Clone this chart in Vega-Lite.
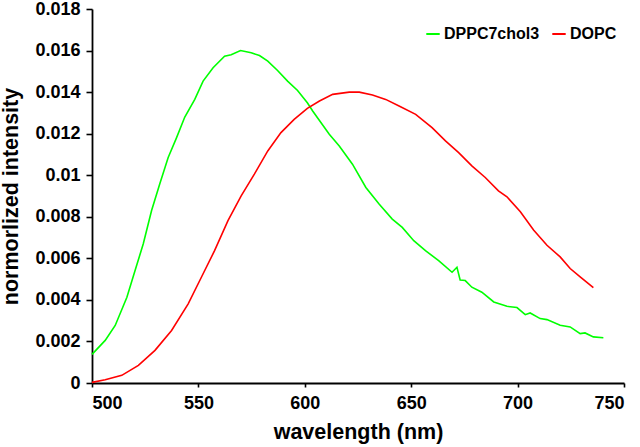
{
  "$schema": "https://vega.github.io/schema/vega-lite/v6.json",
  "width": 532,
  "height": 374,
  "autosize": {"type": "none"},
  "padding": {"left": 92, "top": 9, "right": 16, "bottom": 64},
  "background": "white",
  "config": {
    "view": {"stroke": null},
    "font": "Liberation Sans",
    "axis": {
      "grid": false,
      "domainColor": "black",
      "domainWidth": 1.8,
      "tickColor": "black",
      "tickWidth": 1.6,
      "labelColor": "black",
      "labelFont": "Liberation Sans",
      "labelFontWeight": "bold",
      "labelFontSize": 18,
      "titleColor": "black",
      "titleFont": "Liberation Sans",
      "titleFontWeight": "bold"
    },
    "legend": {
      "labelFont": "Liberation Sans",
      "labelFontWeight": "bold",
      "labelFontSize": 16,
      "labelColor": "black"
    }
  },
  "data": {
    "values": [
      {"wl": 500.0, "v": 0.00138, "s": "DPPC7chol3"},
      {"wl": 506.2, "v": 0.00205, "s": "DPPC7chol3"},
      {"wl": 510.9, "v": 0.00277, "s": "DPPC7chol3"},
      {"wl": 516.4, "v": 0.00413, "s": "DPPC7chol3"},
      {"wl": 520.2, "v": 0.0054, "s": "DPPC7chol3"},
      {"wl": 524.1, "v": 0.0067, "s": "DPPC7chol3"},
      {"wl": 528.0, "v": 0.0083, "s": "DPPC7chol3"},
      {"wl": 531.9, "v": 0.0096, "s": "DPPC7chol3"},
      {"wl": 535.8, "v": 0.01085, "s": "DPPC7chol3"},
      {"wl": 539.7, "v": 0.0118, "s": "DPPC7chol3"},
      {"wl": 543.6, "v": 0.0128, "s": "DPPC7chol3"},
      {"wl": 548.3, "v": 0.01365, "s": "DPPC7chol3"},
      {"wl": 552.2, "v": 0.01453, "s": "DPPC7chol3"},
      {"wl": 556.9, "v": 0.01517, "s": "DPPC7chol3"},
      {"wl": 562.3, "v": 0.01573, "s": "DPPC7chol3"},
      {"wl": 565.4, "v": 0.0158, "s": "DPPC7chol3"},
      {"wl": 569.8, "v": 0.016, "s": "DPPC7chol3"},
      {"wl": 574.8, "v": 0.01589, "s": "DPPC7chol3"},
      {"wl": 578.7, "v": 0.01576, "s": "DPPC7chol3"},
      {"wl": 582.6, "v": 0.01549, "s": "DPPC7chol3"},
      {"wl": 587.2, "v": 0.01504, "s": "DPPC7chol3"},
      {"wl": 591.9, "v": 0.01453, "s": "DPPC7chol3"},
      {"wl": 596.6, "v": 0.01408, "s": "DPPC7chol3"},
      {"wl": 601.2, "v": 0.01349, "s": "DPPC7chol3"},
      {"wl": 603.7, "v": 0.01309, "s": "DPPC7chol3"},
      {"wl": 611.5, "v": 0.01197, "s": "DPPC7chol3"},
      {"wl": 616.2, "v": 0.01141, "s": "DPPC7chol3"},
      {"wl": 622.4, "v": 0.01053, "s": "DPPC7chol3"},
      {"wl": 628.7, "v": 0.00941, "s": "DPPC7chol3"},
      {"wl": 634.9, "v": 0.00861, "s": "DPPC7chol3"},
      {"wl": 641.1, "v": 0.00789, "s": "DPPC7chol3"},
      {"wl": 645.8, "v": 0.00749, "s": "DPPC7chol3"},
      {"wl": 651.2, "v": 0.00685, "s": "DPPC7chol3"},
      {"wl": 656.7, "v": 0.00637, "s": "DPPC7chol3"},
      {"wl": 662.9, "v": 0.00589, "s": "DPPC7chol3"},
      {"wl": 669.2, "v": 0.00533, "s": "DPPC7chol3"},
      {"wl": 671.5, "v": 0.00557, "s": "DPPC7chol3"},
      {"wl": 673.0, "v": 0.00496, "s": "DPPC7chol3"},
      {"wl": 675.4, "v": 0.00493, "s": "DPPC7chol3"},
      {"wl": 678.5, "v": 0.00461, "s": "DPPC7chol3"},
      {"wl": 683.2, "v": 0.00437, "s": "DPPC7chol3"},
      {"wl": 688.8, "v": 0.0039, "s": "DPPC7chol3"},
      {"wl": 695.0, "v": 0.00369, "s": "DPPC7chol3"},
      {"wl": 699.7, "v": 0.00363, "s": "DPPC7chol3"},
      {"wl": 703.6, "v": 0.00329, "s": "DPPC7chol3"},
      {"wl": 705.9, "v": 0.00337, "s": "DPPC7chol3"},
      {"wl": 710.6, "v": 0.0031, "s": "DPPC7chol3"},
      {"wl": 713.8, "v": 0.00305, "s": "DPPC7chol3"},
      {"wl": 720.0, "v": 0.00278, "s": "DPPC7chol3"},
      {"wl": 724.7, "v": 0.0027, "s": "DPPC7chol3"},
      {"wl": 729.4, "v": 0.00238, "s": "DPPC7chol3"},
      {"wl": 731.7, "v": 0.00241, "s": "DPPC7chol3"},
      {"wl": 735.6, "v": 0.00222, "s": "DPPC7chol3"},
      {"wl": 740.3, "v": 0.00218, "s": "DPPC7chol3"},
      {"wl": 500.0, "v": 0.00003, "s": "DOPC"},
      {"wl": 506.2, "v": 0.00016, "s": "DOPC"},
      {"wl": 514.0, "v": 0.00037, "s": "DOPC"},
      {"wl": 521.8, "v": 0.00085, "s": "DOPC"},
      {"wl": 529.6, "v": 0.00157, "s": "DOPC"},
      {"wl": 537.4, "v": 0.00253, "s": "DOPC"},
      {"wl": 545.2, "v": 0.00381, "s": "DOPC"},
      {"wl": 551.4, "v": 0.00509, "s": "DOPC"},
      {"wl": 557.6, "v": 0.00637, "s": "DOPC"},
      {"wl": 563.9, "v": 0.00781, "s": "DOPC"},
      {"wl": 570.1, "v": 0.00901, "s": "DOPC"},
      {"wl": 576.3, "v": 0.01005, "s": "DOPC"},
      {"wl": 582.6, "v": 0.01117, "s": "DOPC"},
      {"wl": 588.8, "v": 0.01205, "s": "DOPC"},
      {"wl": 595.0, "v": 0.01269, "s": "DOPC"},
      {"wl": 601.2, "v": 0.01322, "s": "DOPC"},
      {"wl": 606.9, "v": 0.01357, "s": "DOPC"},
      {"wl": 613.1, "v": 0.01389, "s": "DOPC"},
      {"wl": 620.9, "v": 0.014, "s": "DOPC"},
      {"wl": 625.6, "v": 0.014, "s": "DOPC"},
      {"wl": 631.8, "v": 0.01386, "s": "DOPC"},
      {"wl": 638.0, "v": 0.01365, "s": "DOPC"},
      {"wl": 644.3, "v": 0.01333, "s": "DOPC"},
      {"wl": 652.1, "v": 0.01293, "s": "DOPC"},
      {"wl": 659.8, "v": 0.01229, "s": "DOPC"},
      {"wl": 666.1, "v": 0.01165, "s": "DOPC"},
      {"wl": 672.3, "v": 0.01109, "s": "DOPC"},
      {"wl": 678.5, "v": 0.01045, "s": "DOPC"},
      {"wl": 684.8, "v": 0.00989, "s": "DOPC"},
      {"wl": 691.0, "v": 0.00925, "s": "DOPC"},
      {"wl": 695.0, "v": 0.00896, "s": "DOPC"},
      {"wl": 701.3, "v": 0.00824, "s": "DOPC"},
      {"wl": 707.5, "v": 0.00736, "s": "DOPC"},
      {"wl": 713.8, "v": 0.00663, "s": "DOPC"},
      {"wl": 720.0, "v": 0.00607, "s": "DOPC"},
      {"wl": 724.7, "v": 0.00551, "s": "DOPC"},
      {"wl": 729.4, "v": 0.00511, "s": "DOPC"},
      {"wl": 735.6, "v": 0.00459, "s": "DOPC"}
    ]
  },
  "mark": {"type": "line", "strokeWidth": 1.6, "interpolate": "linear"},
  "encoding": {
    "x": {
      "field": "wl",
      "type": "quantitative",
      "scale": {"domain": [500, 750], "nice": false, "zero": false},
      "axis": {
        "title": "wavelength (nm)",
        "values": [500, 550, 600, 650, 700, 750],
        "tickSize": 4,
        "labelPadding": 7,
        "titleFontSize": 21.5,
        "titleBaseline": "alphabetic",
        "titleY": 55
      }
    },
    "y": {
      "field": "v",
      "type": "quantitative",
      "scale": {"domain": [0, 0.018], "nice": false},
      "axis": {
        "title": "normorlized intensity",
        "values": [0, 0.002, 0.004, 0.006, 0.008, 0.01, 0.012, 0.014, 0.016, 0.018],
        "format": ".3~f",
        "tickSize": 6,
        "labelPadding": 6,
        "titleFontSize": 21.5,
        "titleBaseline": "alphabetic",
        "titleX": -75
      }
    },
    "color": {
      "field": "s",
      "type": "nominal",
      "sort": ["DPPC7chol3", "DOPC"],
      "scale": {"domain": ["DPPC7chol3", "DOPC"], "range": ["#00ff00", "#ff0000"]},
      "legend": {
        "title": null,
        "orient": "none",
        "direction": "horizontal",
        "legendX": 333,
        "legendY": 17,
        "symbolType": "stroke",
        "symbolSize": 180,
        "symbolStrokeWidth": 2,
        "labelOffset": 3,
        "columnPadding": 8,
        "padding": 0
      }
    }
  }
}
